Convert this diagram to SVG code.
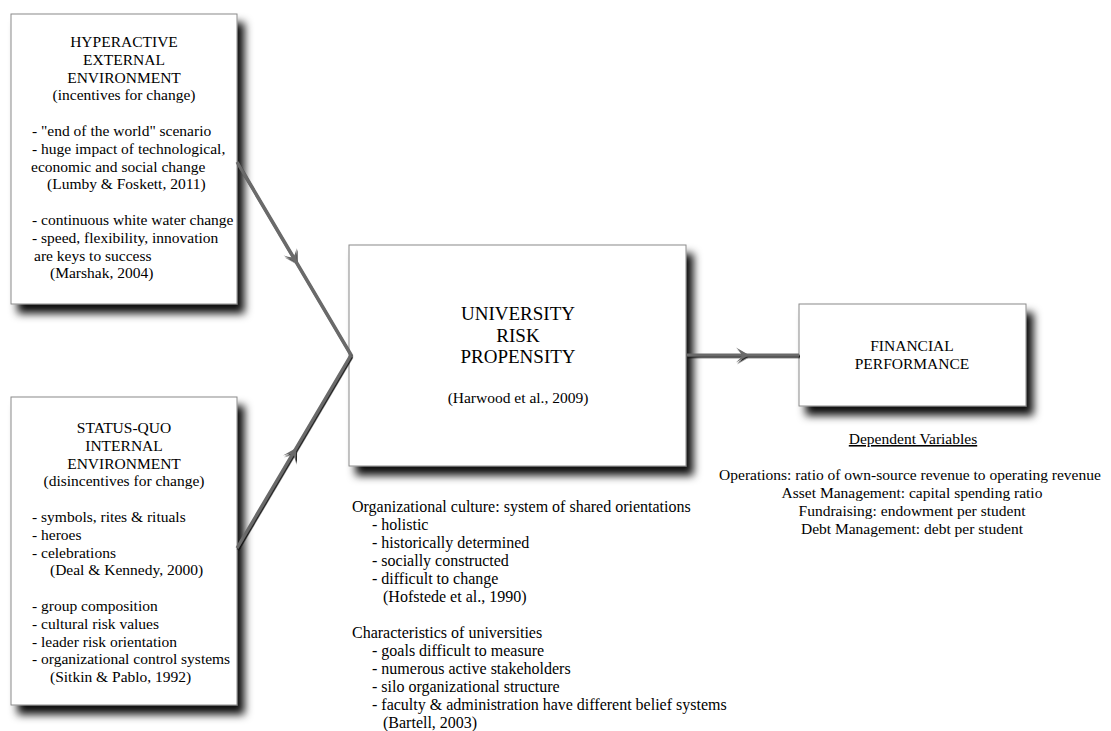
<svg xmlns="http://www.w3.org/2000/svg" width="1111" height="731" viewBox="0 0 1111 731">
<style>
text { font-family: 'Liberation Serif', 'DejaVu Serif', serif; font-size: 15.5px; fill: #000; }
.c { text-anchor: middle; }
.big { font-size: 19px; }
.n { font-size: 16px; }
.box { fill: #fff; stroke: #8a8a8a; stroke-width: 1; filter: url(#boxShadow); }
.conn { fill: none; stroke: #6a6a6a; stroke-width: 3.2; }
.u { text-decoration: underline; }
</style>
<defs>
<filter id="boxShadow" x="-10%" y="-10%" width="130%" height="130%">
<feDropShadow dx="7" dy="9" stdDeviation="4" flood-color="#000" flood-opacity="0.95"/>
</filter>
<filter id="lineShadow" x="-10%" y="-10%" width="130%" height="130%">
<feDropShadow dx="1" dy="1.5" stdDeviation="0.7" flood-color="#111" flood-opacity="0.9"/>
</filter>
<marker id="barb" markerUnits="userSpaceOnUse" viewBox="-14 -9 16 18" refX="0" refY="0" markerWidth="16" markerHeight="18" orient="auto">
<path d="M0,0 L-13,-7.5 Q-8,-3 -7,0 Q-8,3 -13,7.5 Z" fill="#6a6a6a"/>
</marker>
</defs>

<g id="node-external">
<rect class="box" x="11" y="14" width="226" height="290"/>
<text class="c" x="124" y="47">HYPERACTIVE</text>
<text class="c" x="124" y="64.8">EXTERNAL</text>
<text class="c" x="124" y="82.6">ENVIRONMENT</text>
<text class="c" x="124" y="100.4">(incentives for change)</text>
<text x="32" y="136">- "end of the world" scenario</text>
<text x="32" y="153.8">- huge impact of technological,</text>
<text x="31" y="171.6">economic and social change</text>
<text x="47" y="189.4">(Lumby &amp; Foskett, 2011)</text>
<text x="32" y="225">- continuous white water change</text>
<text x="32" y="242.8">- speed, flexibility, innovation</text>
<text x="34" y="260.6">are keys to success</text>
<text x="50" y="278.4">(Marshak, 2004)</text>
</g>

<g id="node-internal">
<rect class="box" x="11" y="397" width="226" height="308"/>
<text class="c" x="124" y="433">STATUS-QUO</text>
<text class="c" x="124" y="450.8">INTERNAL</text>
<text class="c" x="124" y="468.6">ENVIRONMENT</text>
<text class="c" x="124" y="486.4">(disincentives for change)</text>
<text x="32" y="522">- symbols, rites &amp; rituals</text>
<text x="32" y="539.8">- heroes</text>
<text x="32" y="557.6">- celebrations</text>
<text x="50" y="575.4">(Deal &amp; Kennedy, 2000)</text>
<text x="32" y="611">- group composition</text>
<text x="32" y="628.8">- cultural risk values</text>
<text x="32" y="646.6">- leader risk orientation</text>
<text x="32" y="664.4">- organizational control systems</text>
<text x="50" y="682.2">(Sitkin &amp; Pablo, 1992)</text>
</g>

<g id="node-university">
<rect class="box" x="349" y="245" width="337" height="221"/>
<text class="c big" x="518" y="320">UNIVERSITY</text>
<text class="c big" x="518" y="341.5">RISK</text>
<text class="c big" x="518" y="363">PROPENSITY</text>
<text class="c" x="518" y="403">(Harwood et al., 2009)</text>
</g>

<g id="node-financial">
<rect class="box" x="799" y="304" width="227" height="102"/>
<text class="c" x="912" y="351">FINANCIAL</text>
<text class="c" x="912" y="369">PERFORMANCE</text>
</g>

<g id="notes-university">
<text class="n" x="352" y="512">Organizational culture: system of shared orientations</text>
<text class="n" x="372" y="530">- holistic</text>
<text class="n" x="372" y="548">- historically determined</text>
<text class="n" x="372" y="566">- socially constructed</text>
<text class="n" x="372" y="584">- difficult to change</text>
<text class="n" x="383" y="602">(Hofstede et al., 1990)</text>
<text class="n" x="352" y="638">Characteristics of universities</text>
<text class="n" x="372" y="656">- goals difficult to measure</text>
<text class="n" x="372" y="674">- numerous active stakeholders</text>
<text class="n" x="372" y="692">- silo organizational structure</text>
<text class="n" x="372" y="710">- faculty &amp; administration have different belief systems</text>
<text class="n" x="383" y="728">(Bartell, 2003)</text>
</g>

<g id="notes-financial">
<text class="c u" x="913" y="444">Dependent Variables</text>
<text class="c" x="910" y="480">Operations: ratio of own-source revenue to operating revenue</text>
<text class="c" x="912" y="498">Asset Management: capital spending ratio</text>
<text class="c" x="912" y="516">Fundraising: endowment per student</text>
<text class="c" x="912" y="534">Debt Management: debt per student</text>
</g>

<g id="connectors" filter="url(#lineShadow)">
<polyline class="conn" points="237,162 296.7,263 351,355" marker-mid="url(#barb)"/>
<polyline class="conn" points="237,548 296.1,448 351,355" marker-mid="url(#barb)"/>
<polyline class="conn" points="687,355 749,355 799,355" marker-mid="url(#barb)"/>
</g>
</svg>
